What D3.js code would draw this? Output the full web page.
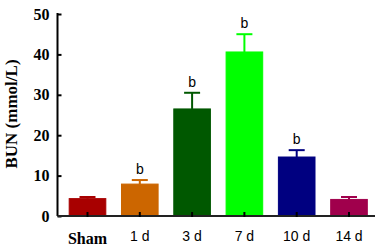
<!DOCTYPE html>
<html><head><meta charset="utf-8">
<script src="https://cdn.jsdelivr.net/npm/d3@7"></script>
<style>body{margin:0;background:#fff}svg{display:block}</style>
</head><body>
<script>
const categories = ["Sham", "1 d", "3 d", "7 d", "10 d", "14 d"];
const means = [4.3, 7.9, 26.5, 40.6, 14.6, 4.1];
const errors = [0.4, 1.0, 4.0, 4.4, 1.7, 0.6];
const sigLabels = ["", "b", "b", "b", "b", ""];
const colors = ["#a80000", "#cc6600", "#005800", "#00ff00", "#000080", "#a0004c"];
const yTicks = [0, 10, 20, 30, 40, 50];

const W = 388, H = 247;
const svg = d3.select("body").append("svg").attr("width", W).attr("height", H);

const x = d3.scaleBand().domain(categories).range([61.35, 375.15]).paddingInner(0.3).paddingOuter(0.15);
const y = d3.scaleLinear().domain([0, 50]).range([216, 14]);

// bars
svg.selectAll("rect.bar").data(categories).join("rect")
  .attr("x", d => x(d)).attr("width", x.bandwidth())
  .attr("y", (d,i) => y(means[i])).attr("height", (d,i) => y(0) - y(means[i]))
  .attr("fill", (d,i) => colors[i]).attr("stroke", (d,i) => colors[i]).attr("stroke-width", 1);

// error bars
const capW = 16;
const eg = svg.append("g");
categories.forEach((c, i) => {
  const cx = x(c) + x.bandwidth()/2;
  eg.append("line").attr("x1", cx).attr("x2", cx).attr("y1", y(means[i])).attr("y2", y(means[i]+errors[i]))
    .attr("stroke", colors[i]).attr("stroke-width", 2);
  eg.append("line").attr("x1", cx-capW/2).attr("x2", cx+capW/2).attr("y1", y(means[i]+errors[i])).attr("y2", y(means[i]+errors[i]))
    .attr("stroke", colors[i]).attr("stroke-width", 2);
  if (sigLabels[i]) {
    eg.append("text").attr("x", cx).attr("y", y(means[i]+errors[i]) - 6)
      .attr("text-anchor", "middle").attr("font-family", "Liberation Sans, Arial, sans-serif")
      .attr("font-size", 14).attr("fill", "#000").text(sigLabels[i]);
  }
});

// y axis
const yAxis = d3.axisLeft(y).tickValues(yTicks).tickSize(-4).tickPadding(8);
const gy = svg.append("g").attr("transform", "translate(57.5,0)").call(yAxis);
gy.select(".domain").attr("stroke", "#000").attr("stroke-width", 2).attr("d", `M0,${y(50)-1}V${y(0)}`);
gy.selectAll(".tick line").attr("stroke", "#000").attr("stroke-width", 2);
gy.selectAll(".tick text").attr("font-family", "Liberation Serif, Times New Roman, serif")
  .attr("font-weight", "bold").attr("font-size", 16).attr("fill", "#000");

// x axis
const xAxis = d3.axisBottom(x).tickSize(-4).tickPadding(14);
const gx = svg.append("g").attr("transform", `translate(0,${y(0)})`).call(xAxis);
gx.select(".domain").attr("stroke", "#222").attr("stroke-width", 2).attr("d", "M57.5,0H375");
gx.selectAll(".tick line").attr("stroke", "#000").attr("stroke-width", 2).attr("y1", 1);
gx.selectAll(".tick text")
  .attr("font-family", d => d === "Sham" ? "Liberation Serif, Times New Roman, serif" : "Liberation Sans, Arial, sans-serif")
  .attr("font-weight", d => d === "Sham" ? "bold" : "normal")
  .attr("font-size", d => d === "Sham" ? 16 : 14).attr("fill", "#000")
  .attr("dy", "0.71em")
  .attr("y", d => d === "Sham" ? 16.5 : 15);

// y label
svg.append("text").attr("transform", "translate(17,114) rotate(-90)")
  .attr("text-anchor", "middle").attr("font-family", "Liberation Serif, Times New Roman, serif")
  .attr("font-weight", "bold").attr("font-size", 17).attr("fill", "#000").text("BUN (mmol/L)");
</script>
</body></html>
